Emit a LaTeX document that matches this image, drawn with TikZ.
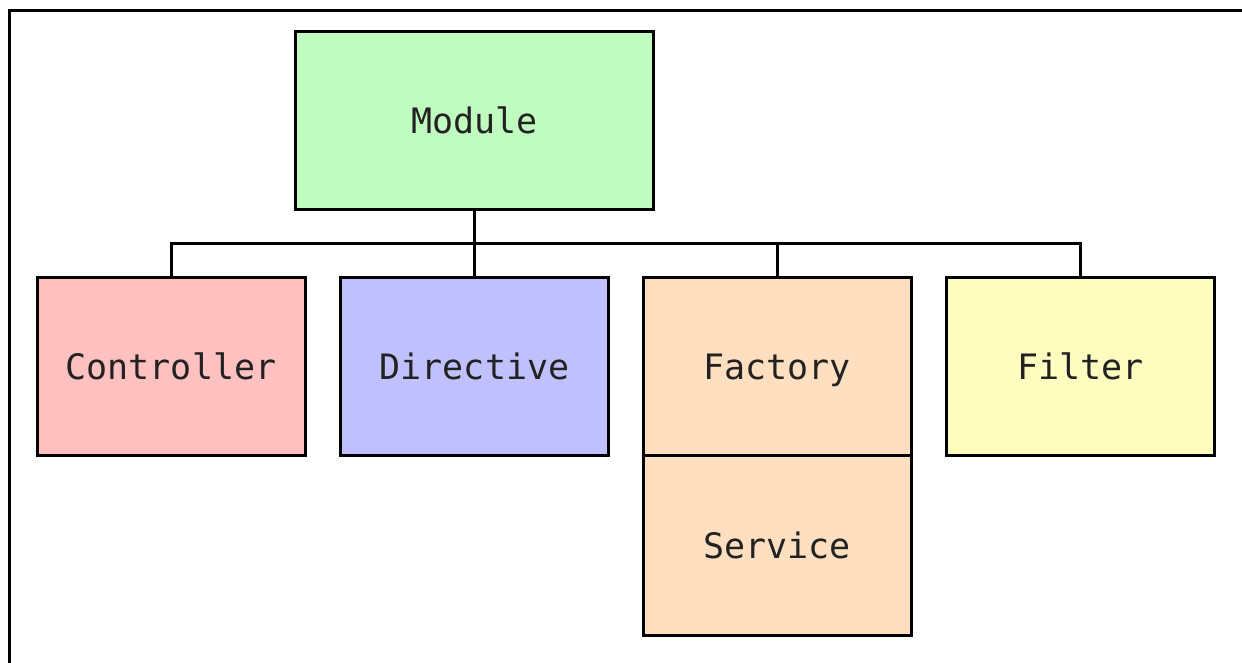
\documentclass[tikz,border=0pt]{standalone}
\usepackage{fontspec}
\usetikzlibrary{calc}
\newfontfamily\boxfont{DejaVu Sans Mono}
\definecolor{modgreen}{HTML}{C0FCC0}
\definecolor{ctlpink}{HTML}{FFC0C0}
\definecolor{dirblue}{HTML}{C0C0FF}
\definecolor{svcpeach}{HTML}{FFDFC0}
\definecolor{fltyellow}{HTML}{FFFCC0}
\definecolor{labelink}{HTML}{222222}
\tikzset{
  unitbox/.style={draw=black, line width=3pt, minimum width=268pt, minimum height=178pt,
    inner sep=0pt, text height=25.5pt, text depth=0pt,
    font=\boxfont\fontsize{35}{42}\selectfont, text=labelink},
  link/.style={line width=3pt},
  frameline/.style={line width=3pt}
}
\begin{document}
\begin{tikzpicture}[x=1pt,y=-1pt]
\useasboundingbox (0,0) rectangle (1242,663);
\clip (0,0) rectangle (1242,663);
\fill[white] (0,0) rectangle (1242,663);
% enclosing frame
\draw[frameline] (9.5,700) -- (9.5,10.5) -- (1260,10.5);

% boxes
\node[unitbox, fill=modgreen, minimum width=358pt] (mod) at (474.5,120.5) {Module};
\node[unitbox, fill=ctlpink] (ctl) at (171,366.5) {Controller};
\node[unitbox, fill=dirblue] (dir) at (474.5,366.5) {Directive};
\node[unitbox, fill=svcpeach, minimum height=180pt] (svc) at (777,545.5) {Service};
\node[unitbox, fill=svcpeach] (fac) at (777,366.5) {Factory};
\node[unitbox, fill=fltyellow] (flt) at (1080.5,366.5) {Filter};

% tree connectors
\coordinate (bus) at ($(mod.south)+(0,32)$);
\draw[link] (mod.south) -- (dir.north);
\draw[link] (bus) -| (ctl.north);
\draw[link] (bus) -| (fac.north);
\draw[link] (bus) -| (flt.north);
\end{tikzpicture}
\end{document}
